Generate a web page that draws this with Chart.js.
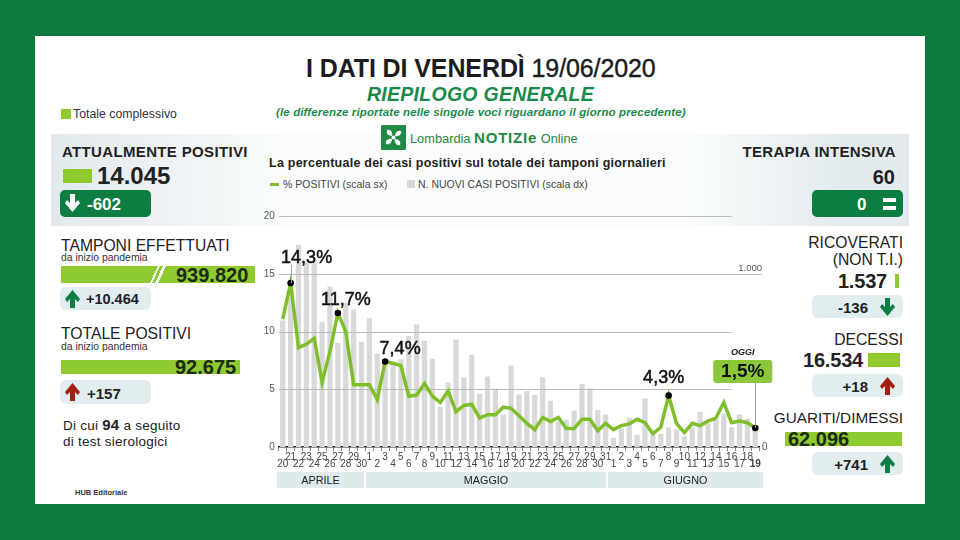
<!DOCTYPE html>
<html lang="it">
<head>
<meta charset="utf-8">
<title>I dati di venerdì 19/06/2020</title>
<script src="https://cdn.jsdelivr.net/npm/chart.js@4"></script>
<style>
    html, body { margin: 0; padding: 0; }
    body { width: 960px; height: 540px; overflow: hidden; background: #0c7b3d; position: relative;
           font-family: "Liberation Sans", Arial, sans-serif; color: #222; }
    #panel { position: absolute; left: 35px; top: 36px; width: 890px; height: 468px; background: #fff; }
    #band { position: absolute; left: 51px; top: 134px; width: 858px; height: 92px;
            background: linear-gradient(90deg, #e2e9ec 0, #f4f7f8 20%, #fbfdfd 28%, #fbfdfd 74%, #e4ebee 92%, #e4ebee 100%); }
    #chart { position: absolute; left: 0; top: 0; }
    .t { position: absolute; white-space: nowrap; transform: translateY(-50%); line-height: 1; }
    .r { text-align: right; }
    .b { font-weight: bold; }
    .box { position: absolute; }
    .lime { background: #8fca2f; }
    .dark { background: #0e7d41; border-radius: 5px; }
    .pale { background: #e2edf0; border-radius: 6px; }
    .month { position: absolute; top: 472px; height: 16px; background: #dfeaed; color: #222; font-size: 10.8px;
             line-height: 16px; text-align: center; }
    svg.a { position: absolute; width: 15px; height: 20px; }
</style>
</head>
<body>
<div id="panel"></div>
<div id="band"></div>

<!-- titolo -->
<div class="t b" style="left:306px;top:68px;font-size:25px;letter-spacing:-0.1px;color:#1c1c1c">I DATI DI VENERDÌ <span style="font-weight:normal;-webkit-text-stroke:0.4px #1c1c1c">19/06/2020</span></div>
<div class="t b" style="left:367px;top:95px;font-size:19.5px;font-style:italic;letter-spacing:0.27px;color:#1a8a4a">RIEPILOGO GENERALE</div>
<div class="t b" style="left:276px;top:113px;font-size:11.5px;font-style:italic;letter-spacing:0.13px;color:#1a8a4a">(le differenze riportate nelle singole voci riguardano il giorno precedente)</div>

<!-- logo -->
<svg class="box" style="left:381px;top:125px" width="25" height="25" viewBox="0 0 25 25">
    <rect width="25" height="25" rx="1" fill="#1f8a45"/>
    <g fill="#fff">
        <circle cx="12.5" cy="12.5" r="2"/>
        <path d="M11 11 C7 11 5 8 6 5 C9 4 12 7 11 11Z"/>
        <path d="M14 11 C14 7 17 5 20 6 C21 9 18 12 14 11Z"/>
        <path d="M14 14 C18 14 20 17 19 20 C16 21 13 18 14 14Z"/>
        <path d="M11 14 C11 18 8 20 5 19 C4 16 7 13 11 14Z"/>
    </g>
</svg>
<div class="t" style="left:410px;top:138px;font-size:12.8px;color:#1f8a45">Lombardia <span class="b" style="font-size:15px;letter-spacing:0.8px">NOTIZIe</span> Online</div>

<!-- sopra a sinistra -->
<div class="box lime" style="left:61px;top:109px;width:10px;height:10px"></div>
<div class="t" style="left:73px;top:114px;font-size:12.3px;color:#333">Totale complessivo</div>

<div class="t b" style="left:62px;top:151px;font-size:15px;letter-spacing:0.35px">ATTUALMENTE POSITIVI</div>
<div class="box lime" style="left:63px;top:169px;width:29px;height:14px"></div>
<div class="t b" style="left:97px;top:176px;font-size:24px">14.045</div>
<div class="box dark" style="left:60px;top:190px;width:91px;height:27px"></div>
<svg class="a" style="left:65px;top:193px" viewBox="0 0 15 20"><use href="#down" fill="#fff"/></svg>
<div class="t b" style="left:87px;top:204px;font-size:17px;color:#fff">-602</div>

<div class="t" style="left:61px;top:246px;font-size:15.7px">TAMPONI EFFETTUATI</div>
<div class="t" style="left:61px;top:258px;font-size:10.4px;color:#333">da inizio pandemia</div>
<div class="box lime" style="left:61px;top:266px;width:194px;height:17px;background:linear-gradient(115deg,#8fca2f 0,#8fca2f 48%,#fff 48%,#fff 49%,#8fca2f 49%,#8fca2f 50.5%,#fff 50.5%,#fff 52%,#8fca2f 52%)"></div>
<div class="t b" style="left:176px;top:275px;font-size:20px;color:#1c2a14">939.820</div>
<div class="box pale" style="left:60px;top:287px;width:91px;height:23px"></div>
<svg class="a" style="left:65px;top:289px" viewBox="0 0 15 20"><use href="#up" fill="#0e7d41"/></svg>
<div class="t b" style="left:86px;top:299px;font-size:14.5px">+10.464</div>

<div class="t" style="left:61px;top:334px;font-size:15.7px">TOTALE POSITIVI</div>
<div class="t" style="left:61px;top:347px;font-size:10.4px;color:#333">da inizio pandemia</div>
<div class="box lime" style="left:61px;top:360px;width:179px;height:14px"></div>
<div class="t b" style="left:175px;top:367px;font-size:20px;color:#1c2a14">92.675</div>
<div class="box pale" style="left:60px;top:380px;width:91px;height:24px"></div>
<svg class="a" style="left:65px;top:382px" viewBox="0 0 15 20"><use href="#up" fill="#a32012"/></svg>
<div class="t b" style="left:87px;top:393px;font-size:15px">+157</div>

<div class="t" style="left:63px;top:425px;font-size:13.5px;letter-spacing:0.25px">Di cui <span class="b" style="font-size:15px">94</span> a seguito</div>
<div class="t" style="left:63px;top:442px;font-size:13.5px;letter-spacing:0.25px">di test sierologici</div>
<div class="t b" style="left:75px;top:493px;font-size:7.5px;color:#333">HUB Editoriale</div>

<!-- a destra -->
<div class="t b r" style="right:64px;top:151px;font-size:15px;letter-spacing:0.3px">TERAPIA INTENSIVA</div>
<div class="t b r" style="right:65px;top:177px;font-size:20px">60</div>
<div class="box" style="left:899px;top:170px;width:1px;height:15px;background:#dfe8d0"></div>
<div class="box dark" style="left:812px;top:190px;width:91px;height:27px"></div>
<div class="t b" style="left:857px;top:204px;font-size:17px;color:#fff">0</div>
<div class="box" style="left:883px;top:198px;width:13px;height:4px;background:#fff"></div>
<div class="box" style="left:883px;top:206px;width:13px;height:4px;background:#fff"></div>

<div class="t r" style="right:57px;top:243px;font-size:15.7px">RICOVERATI</div>
<div class="t r" style="right:57px;top:260px;font-size:15.7px">(NON T.I.)</div>
<div class="t b r" style="right:73px;top:281px;font-size:20px;letter-spacing:-0.2px">1.537</div>
<div class="box lime" style="left:895px;top:274px;width:4px;height:14px"></div>
<div class="box pale" style="left:812px;top:295px;width:91px;height:23px"></div>
<div class="t b r" style="right:92px;top:307px;font-size:15px">-136</div>
<svg class="a" style="left:880px;top:297px" viewBox="0 0 15 20"><use href="#down" fill="#0e7d41"/></svg>

<div class="t r" style="right:57px;top:340px;font-size:15.7px">DECESSI</div>
<div class="t b r" style="right:97px;top:360px;font-size:20px;letter-spacing:-0.2px">16.534</div>
<div class="box lime" style="left:868px;top:353px;width:32px;height:14px"></div>
<div class="box pale" style="left:812px;top:374px;width:91px;height:23px"></div>
<div class="t b r" style="right:92px;top:386px;font-size:15px">+18</div>
<svg class="a" style="left:880px;top:376px" viewBox="0 0 15 20"><use href="#up" fill="#a32012"/></svg>

<div class="t r" style="right:57px;top:418px;font-size:15.3px">GUARITI/DIMESSI</div>
<div class="box lime" style="left:785px;top:432px;width:117px;height:14px"></div>
<div class="t b" style="left:788px;top:439px;font-size:20px;color:#1c2a14">62.096</div>
<div class="box pale" style="left:812px;top:452px;width:91px;height:23px"></div>
<div class="t b r" style="right:92px;top:464px;font-size:15px">+741</div>
<svg class="a" style="left:880px;top:454px" viewBox="0 0 15 20"><use href="#up" fill="#0e7d41"/></svg>

<!-- testata del grafico -->
<div class="t b" style="left:269px;top:163px;font-size:12.5px;letter-spacing:0.24px">La percentuale dei casi positivi sul totale dei tamponi giornalieri</div>
<div class="box" style="left:270px;top:183px;width:9px;height:2.5px;background:#7fbf2b"></div>
<div class="t" style="left:283px;top:184px;font-size:10.5px;color:#444">% POSITIVI (scala sx)</div>
<div class="box" style="left:407px;top:180px;width:8px;height:8px;background:#d6d6d6"></div>
<div class="t" style="left:418px;top:184px;font-size:10.5px;color:#444">N. NUOVI CASI POSITIVI (scala dx)</div>

<canvas id="chart" width="960" height="540"></canvas>

<div class="month" style="left:277px;width:87px">APRILE</div>
<div class="month" style="left:366px;width:240px">MAGGIO</div>
<div class="month" style="left:608px;width:155px">GIUGNO</div>

<svg width="0" height="0" style="position:absolute">
    <defs>
        <path id="down" d="M5 1 H10 V10 L13 7 L15 10 L7.5 19 L0 10 L2 7 L5 10Z"/>
        <path id="up" d="M5 19 H10 V10 L13 13 L15 10 L7.5 1 L0 10 L2 13 L5 10Z"/>
    </defs>
</svg>

<script>
// giorni dal 20 aprile al 19 giugno
const aprilDays = [20, 21, 22, 23, 24, 25, 26, 27, 28, 29, 30];
const mayDays = [1, 2, 3, 4, 5, 6, 7, 8, 9, 10, 11, 12, 13, 14, 15, 16, 17, 18, 19, 20, 21, 22, 23, 24, 25, 26, 27, 28, 29, 30, 31];
const juneDays = [1, 2, 3, 4, 5, 6, 7, 8, 9, 10, 11, 12, 13, 14, 15, 16, 17, 18, 19];

// % positivi (scala sx)
const percentPositive = [
    11.07, 14.2, 8.6, 8.9, 9.4, 5.6, 8.3, 11.6, 10, 5.4, 5.4,
    5.4, 4.1, 7.4, 7.25, 7.05, 4.4, 4.5, 5.5, 4.4, 3.85, 4.85, 3.05, 3.6, 3.7, 2.5, 2.8, 2.8, 3.45, 3.35, 2.7, 2.05, 1.5, 2.55, 2.2, 2.55, 1.6, 1.6, 2.4, 2.4, 1.4, 2.05,
    1.5, 1.85, 2.0, 2.4, 2.1, 1.15, 1.7, 4.45, 2.05, 1.25, 2.05, 1.85, 2.25, 2.5, 3.85, 2.1, 2.25, 2.1, 1.65
];

// nuovi casi positivi (scala dx)
const newCases = [
    730, 933, 1167, 1067, 1080, 720, 927, 600, 830, 793, 607,
    743, 540, 500, 480, 507, 640, 707, 613, 510, 233, 373, 620, 403, 533, 307, 407, 337, 187, 470, 303, 323, 300, 403, 267, 147, 157, 210, 363, 337, 213, 187,
    53, 107, 170, 70, 280, 70, 77, 113, 103, 60, 113, 203, 137, 157, 193, 113, 187, 163, 93
];

const dayLabels = [...aprilDays, ...mayDays, ...juneDays];
const leftTicks = [0, 5, 10, 15, 20];

// punti con etichetta
const calloutIndex = [1, 7, 13, 49];
const calloutText = ["14,3%", "11,7%", "7,4%", "4,3%"];
const todayIndex = 60;
const todayText = "1,5%";

const AREA_LEFT = 278.8, AREA_RIGHT = 759.2, AREA_TOP = 216, AREA_BOTTOM = 447;
const FONT = '"Liberation Sans", Arial, sans-serif';

// griglia e annotazioni, disegnate a partire dalle scale
const overlayPlugin = {
    id: "overlay",
    afterDatasetDraw(chart, args) {
        if (chart.data.datasets[args.index].type !== "bar") return;
        const ctx = chart.ctx;
        const x = chart.scales.x, y = chart.scales.y;
        const shortEnd = x.getPixelForValue(57);
        ctx.save();
        ctx.strokeStyle = "#bcbcbc";
        ctx.lineWidth = 1;
        leftTicks.slice(1).forEach((v) => {
            const py = Math.round(y.getPixelForValue(v)) + 0.5;
            ctx.beginPath();
            ctx.moveTo(x.left, py);
            ctx.lineTo(v === 15 ? 762 : shortEnd, py);
            ctx.stroke();
        });
        ctx.restore();
    },
    afterDatasetsDraw(chart) {
        const ctx = chart.ctx;
        const x = chart.scales.x, y = chart.scales.y, y2 = chart.scales.y2;
        ctx.save();
        ctx.textBaseline = "middle";

        // scala destra
        ctx.fillStyle = "#555";
        ctx.font = "9.5px " + FONT;
        ctx.textAlign = "right";
        ctx.fillText("1.000", 762, y2.getPixelForValue(1000) - 5);
        ctx.textAlign = "left";
        ctx.font = "10px " + FONT;
        ctx.fillText("0", 762, y2.getPixelForValue(0));

        // etichette dei picchi
        ctx.fillStyle = "#111";
        ctx.strokeStyle = "#111";
        ctx.lineWidth = 0.5;
        ctx.font = "18px " + FONT;
        ctx.textAlign = "center";
        const labelShift = [[16, -25], [8, -13], [15, -12], [-5, -18]];
        calloutIndex.forEach((i, n) => {
            const px = x.getPixelForValue(i) + labelShift[n][0], py = y.getPixelForValue(percentPositive[i]) + labelShift[n][1];
            ctx.fillText(calloutText[n], px, py);
            ctx.strokeText(calloutText[n], px, py);
        });
        ctx.strokeStyle = "#aaa";
        ctx.lineWidth = 1;
        const firstX = Math.round(x.getPixelForValue(calloutIndex[0])) + 0.5;
        ctx.beginPath();
        ctx.moveTo(firstX, 265);
        ctx.lineTo(firstX, y.getPixelForValue(percentPositive[calloutIndex[0]]));
        ctx.stroke();

        // box OGGI
        const tx = x.getPixelForValue(todayIndex), ty = y.getPixelForValue(percentPositive[todayIndex]);
        ctx.strokeStyle = "#999";
        ctx.beginPath();
        ctx.moveTo(Math.round(tx) + 0.5, 383);
        ctx.lineTo(Math.round(tx) + 0.5, ty);
        ctx.stroke();
        ctx.fillStyle = "#8cc63a";
        ctx.beginPath();
        ctx.roundRect(tx - 42, 360, 59, 23, 3);
        ctx.fill();
        ctx.fillStyle = "#111";
        ctx.font = "bold 19px " + FONT;
        ctx.fillText(todayText, tx - 12.5, 372);
        ctx.font = "italic bold 9px " + FONT;
        ctx.fillText("OGGI", tx - 12.5, 353);
        ctx.restore();
    },
};

new Chart(document.getElementById("chart"), {
    data: {
        labels: dayLabels.map((d, i) => (i % 2 === 0 ? ["", String(d)] : [String(d), ""])),
        datasets: [
            {
                type: "line",
                label: "% POSITIVI (scala sx)",
                data: percentPositive,
                yAxisID: "y",
                order: 0,
                borderColor: "#7fbf2b",
                borderWidth: 3.5,
                tension: 0,
                borderJoinStyle: "miter",
                pointRadius: (c) => (calloutIndex.includes(c.dataIndex) || c.dataIndex === todayIndex ? 3.3 : 0),
                pointBackgroundColor: "#000",
                pointBorderWidth: 0,
            },
            {
                type: "bar",
                label: "N. NUOVI CASI POSITIVI (scala dx)",
                data: newCases,
                yAxisID: "y2",
                order: 1,
                backgroundColor: "#d9d9d9",
                categoryPercentage: 1,
                barPercentage: 0.66,
            },
        ],
    },
    options: {
        responsive: false,
        animation: false,
        events: [],
        layout: {
            padding: { left: AREA_LEFT - 20, right: 960 - AREA_RIGHT, top: AREA_TOP, bottom: 540 - AREA_BOTTOM - 22 },
        },
        plugins: { legend: { display: false }, tooltip: { enabled: false } },
        scales: {
            x: {
                offset: true,
                grid: { drawOnChartArea: false, drawTicks: true, tickLength: 4, color: "#888" },
                border: { color: "#222", width: 1.5 },
                ticks: {
                    autoSkip: false,
                    maxRotation: 0,
                    minRotation: 0,
                    padding: 2,
                    color: "#444",
                    font: (c) => ({
                        family: FONT,
                        size: 10,
                        lineHeight: 0.76,
                        weight: c.index === todayIndex ? "bold" : "normal",
                    }),
                },
                afterFit(scale) {
                    scale.height = 22;
                    scale.paddingLeft = 0;
                    scale.paddingRight = 0;
                },
            },
            y: {
                position: "left",
                min: 0,
                max: 20,
                grid: { display: false, drawTicks: false },
                border: { display: false },
                afterBuildTicks(scale) {
                    scale.ticks = leftTicks.map((v) => ({ value: v }));
                },
                ticks: { padding: 4, color: "#555", font: { family: FONT, size: 10 } },
                afterFit(scale) {
                    scale.width = 20;
                    scale.paddingTop = 0;
                    scale.paddingBottom = 0;
                },
            },
            y2: {
                display: false,
                position: "right",
                min: 0,
                max: 4000 / 3,
            },
        },
    },
    plugins: [overlayPlugin],
});
</script>
</body>
</html>
